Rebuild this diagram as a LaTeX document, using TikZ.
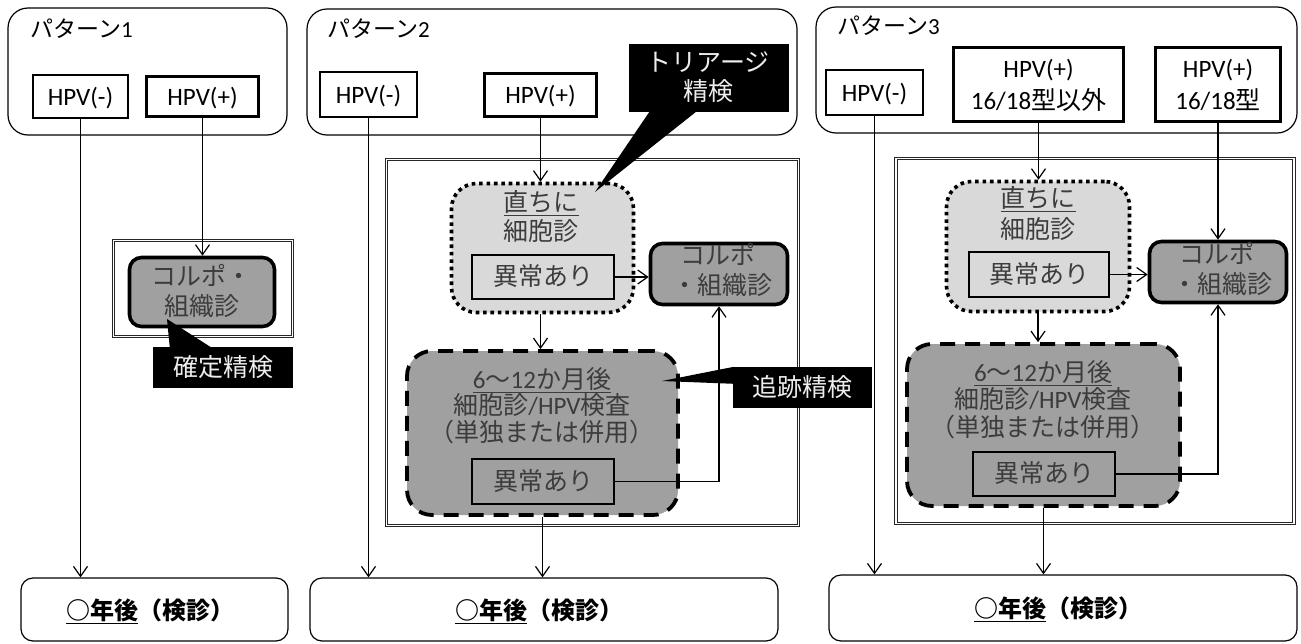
\documentclass[tikz,border=0pt]{standalone}
\usepackage{fontspec}
\setmainfont{Carlito}
\newfontfamily\jp{Noto Sans CJK JP}
\newfontfamily\jph{Noto Sans CJK JP}[RawFeature=+halt]
\usetikzlibrary{arrows.meta,calc}
\definecolor{lfill}{RGB}{217,217,217}
\definecolor{dfill}{RGB}{160,160,160}
\definecolor{tgray}{RGB}{60,60,60}
\definecolor{ctext}{RGB}{238,238,238}
\tikzset{
  wh/.style 2 args={minimum width=#1pt,minimum height=#2pt},
  txt/.style={inner sep=0pt,font=\fontsize{25}{30}\selectfont,text height=21pt,text depth=4pt},
  ptitle/.style={txt,font=\fontsize{23}{28}\selectfont},
  pbox/.style={draw=black,line width=1.2pt,rounded corners=20pt,inner sep=0pt},
  thinbox/.style={txt,draw=black,line width=1.2pt},
  thickbox/.style={txt,draw=black,line width=3.6pt},
  frame/.style={draw=black!85,line width=0.8pt,double=white,double distance=1.6pt,inner sep=0pt},
  colpo/.style={draw=black,line width=3.6pt,fill=dfill,rounded corners=12pt,inner sep=0pt},
  dotbox/.style={draw=black,line width=3.6pt,dash pattern=on 3.6pt off 3.8pt,fill=lfill,rounded corners=25pt,inner sep=0pt},
  dashbox/.style={draw=black,line width=3.8pt,dash pattern=on 15pt off 10pt,fill=dfill,rounded corners=25pt,inner sep=0pt},
  bbox/.style={draw=black,line width=1.2pt,rounded corners=12pt,inner sep=0pt},
  btxt/.style={inner sep=0pt,font=\bfseries\fontsize{24}{28}\selectfont,text height=20pt,text depth=4pt},
  callout/.style={txt,fill=black,text=ctext},
  arr/.style={line width=1.2pt,-{Straight Barb[length=10pt,width=14pt,line width=1.2pt]}},
}
\begin{document}
\begin{tikzpicture}[x=1pt,y=-1pt]
\useasboundingbox (0,0) rectangle (1301,643);
\fill[white] (0,0) rectangle (1301,643);

% ---------- pattern header boxes ----------
\node[pbox,wh={279}{127}] (P1) at (147.5,71.5) {};
\node[pbox,wh={490}{126}] (P2) at (552,72) {};
\node[pbox,wh={481}{126}] (P3) at (1056.5,70) {};
\node[ptitle,anchor=west] (P1t) at (30,29) {{\jp パターン}1};
\node[ptitle,anchor=west] (P2t) at (327,29) {{\jp パターン}2};
\node[ptitle,anchor=west] (P3t) at (837,26) {{\jp パターン}3};

\node[thinbox,wh={95}{43}] (h1n) at (80.5,96.5) {HPV(-)};
\node[thickbox,wh={112}{40}] (h1p) at (202.5,96.5) {HPV(+)};
\node[thinbox,wh={97}{45}] (h2n) at (368.5,94.5) {HPV(-)};
\node[thickbox,wh={112}{43}] (h2p) at (540.5,95) {HPV(+)};
\node[thinbox,wh={97}{45}] (h3n) at (874.5,92.5) {HPV(-)};
\node[thickbox,wh={170}{74},text height=0pt,text depth=0pt] (h3a) at (1038.5,84.5) {};
\node[txt] (h3at1) at (1038.5,69) {HPV(+)};
\node[txt] (h3at2) at (1038.5,101) {16/18{\jp 型以外}};
\node[thickbox,wh={125}{74},text height=0pt,text depth=0pt] (h3b) at (1218,84.5) {};
\node[txt] (h3bt1) at (1218,69) {HPV(+)};
\node[txt] (h3bt2) at (1218,101) {16/18{\jp 型}};

% ---------- inner frames ----------
\node[frame,wh={179}{96}] (F1) at (203,288.5) {};
\node[frame,wh={412}{366}] (F2) at (592.5,342.5) {};
\node[frame,wh={398}{365}] (F3) at (1095,341) {};

% ---------- pattern 1 ----------
\node[colpo,wh={145}{69}] (C1) at (202,292) {};
\node[txt,text=tgray] (C1t1) at (201,277) {\jp コルポ・};
\node[txt,text=tgray] (C1t2) at (202,307) {\jp 組織診};

% ---------- pattern 2 ----------
\node[dotbox,wh={182}{129}] (D2) at (542.5,248) {};
\node[txt,text=tgray] (D2t1) at (541,203) {\jp\underline{直ちに}};
\node[txt,text=tgray] (D2t2) at (541,232) {\jp 細胞診};
\node[thinbox,wh={142}{44},text=tgray] (A2a) at (543,277) {\jp 異常あり};
\node[colpo,wh={137}{61}] (C2) at (719,274) {};
\node[txt,text=tgray] (C2t1) at (718,256) {\jp コルポ};
\node[txt,text=tgray] (C2t2) at (722,286) {\jp ・組織診};
\node[dashbox,wh={271}{164}] (E2) at (542.5,433) {};
\node[txt,text=tgray] (E2t1) at (542,380) {\underline{6{\jp ～}12{\jp か月後}}};
\node[txt,text=tgray] (E2t2) at (542,406) {{\jp 細胞診}/HPV{\jp 検査}};
\node[txt,text=tgray] (E2t3) at (542,433) {\jph （単独または併用）};
\node[thinbox,wh={142}{45},text=tgray] (A2b) at (543,481.5) {\jp 異常あり};

% ---------- pattern 3 ----------
\node[dotbox,wh={183}{130}] (D3) at (1038,246.5) {};
\node[txt,text=tgray] (D3t1) at (1038,199) {\jp\underline{直ちに}};
\node[txt,text=tgray] (D3t2) at (1038,230) {\jp 細胞診};
\node[thinbox,wh={140}{45},text=tgray] (A3a) at (1039,274.5) {\jp 異常あり};
\node[colpo,wh={137}{61}] (C3) at (1218,272) {};
\node[txt,text=tgray] (C3t1) at (1217,255) {\jp コルポ};
\node[txt,text=tgray] (C3t2) at (1222,285) {\jp ・組織診};
\node[dashbox,wh={273}{162}] (E3) at (1043.5,425) {};
\node[txt,text=tgray] (E3t1) at (1043,373) {\underline{6{\jp ～}12{\jp か月後}}};
\node[txt,text=tgray] (E3t2) at (1043,400) {{\jp 細胞診}/HPV{\jp 検査}};
\node[txt,text=tgray] (E3t3) at (1043,428) {\jph （単独または併用）};
\node[thinbox,wh={142}{44},text=tgray] (A3b) at (1044,474) {\jp 異常あり};

% ---------- bottom boxes ----------
\node[bbox,wh={267}{63}] (B1) at (154.5,609.5) {};
\node[bbox,wh={468}{63}] (B2) at (544,609.5) {};
\node[bbox,wh={468}{66}] (B3) at (1063,608) {};
\node[btxt] (B1t) at (150,611) {\jp\underline{○年後}（検診）};
\node[btxt] (B2t) at (539,611) {\jp\underline{○年後}（検診）};
\node[btxt] (B3t) at (1058,609) {\jp\underline{○年後}（検診）};

% ---------- connectors ----------
\draw[arr] (h1n.south) -- (h1n.south |- B1.north);
\draw[arr] (h1p.south) -- (h1p.south |- C1.north);
\draw[arr] (h2n.south) -- (h2n.south |- B2.north);
\draw[arr] (h2p.south) -- (h2p.south |- D2.north);
\draw[arr] (D2.south -| h2p.south) -- (h2p.south |- E2.north);
\draw[arr] (A2a.east) -- (A2a.east -| C2.west);
\draw[arr] (A2b.east) -| (C2.south);
\draw[arr] (E2.south) -- (E2.south |- B2.north);
\draw[arr] (h3n.south) -- (h3n.south |- B3.north);
\draw[arr] (h3a.south) -- (h3a.south |- D3.north);
\draw[arr] (h3b.south) -- (h3b.south |- C3.north);
\draw[arr] (D3.south) -- (D3.south |- E3.north);
\draw[arr] (A3a.east) -- (A3a.east -| C3.west);
\draw[arr] (A3b.east) -| (C3.south);
\draw[arr] (E3.south) -- (E3.south |- B3.north);

% ---------- callouts ----------
\node[callout,wh={140}{41}] (K1) at (223,367.5) {\jp 確定精検};
\coordinate (K1tip) at (167,319);
\fill ($(K1.north west)+(17,1)$) -- (K1tip) -- ($(K1.north west)+(59,1)$) -- cycle;

\node[callout,wh={160}{68},text height=0pt,text depth=0pt] (T2) at (709,78) {};
\node[txt,text=ctext] (T2t1) at (708,63) {\jp トリアージ};
\node[txt,text=ctext] (T2t2) at (708,92) {\jp 精検};
\coordinate (T2tip) at (595,192);
\fill ($(T2.south west)+(21,-1)$) -- (T2tip) -- ($(T2.south west)+(68,-1)$) -- cycle;

\node[callout,wh={139}{41}] (S2) at (802.5,387.5) {\jp 追跡精検};
\coordinate (S2tip) at (662,381);
\fill ($(S2.north west)+(1,0)$) -- (S2tip) -- ($(S2.north west)+(1,17)$) -- cycle;
\end{tikzpicture}
\end{document}
